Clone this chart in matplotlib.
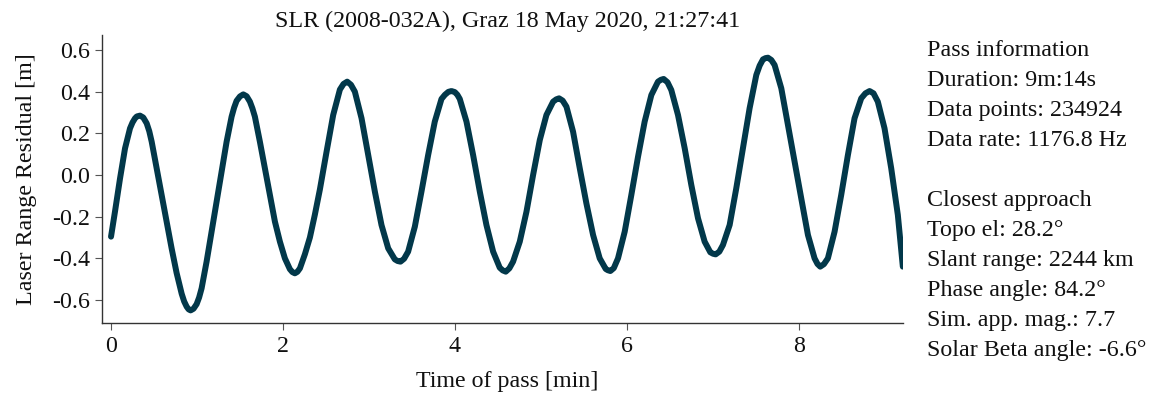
import matplotlib
matplotlib.use("Agg")
import matplotlib.pyplot as plt
from matplotlib.ticker import FormatStrFormatter

# ---- data ----
time_min = [
    0.000, 0.046, 0.105, 0.163, 0.221, 0.250, 0.279, 0.300, 0.337, 0.375,
    0.415, 0.445, 0.473, 0.531, 0.589, 0.647, 0.705, 0.763, 0.822, 0.851,
    0.880, 0.903, 0.926, 0.960, 0.996, 1.025, 1.054, 1.112, 1.170, 1.229,
    1.287, 1.345, 1.403, 1.432, 1.461, 1.500, 1.539, 1.578, 1.616, 1.645,
    1.674, 1.732, 1.790, 1.849, 1.907, 1.965, 2.023, 2.081, 2.110, 2.139,
    2.168, 2.198, 2.256, 2.314, 2.372, 2.430, 2.508, 2.585, 2.663, 2.705,
    2.748, 2.792, 2.837, 2.915, 2.992, 3.070, 3.147, 3.225, 3.302, 3.335,
    3.368, 3.410, 3.457, 3.535, 3.612, 3.690, 3.767, 3.845, 3.885, 3.925,
    3.961, 4.000, 4.030, 4.058, 4.136, 4.213, 4.291, 4.368, 4.446, 4.523,
    4.558, 4.593, 4.635, 4.678, 4.756, 4.834, 4.911, 4.989, 5.066, 5.144,
    5.180, 5.213, 5.255, 5.299, 5.376, 5.454, 5.531, 5.609, 5.686, 5.756,
    5.780, 5.810, 5.850, 5.899, 5.977, 6.054, 6.132, 6.209, 6.287, 6.364,
    6.398, 6.430, 6.475, 6.519, 6.597, 6.675, 6.752, 6.830, 6.907, 6.973,
    7.005, 7.035, 7.078, 7.120, 7.198, 7.275, 7.353, 7.430, 7.508, 7.547,
    7.586, 7.615, 7.644, 7.683, 7.721, 7.799, 7.876, 7.954, 8.031, 8.109,
    8.186, 8.220, 8.252, 8.295, 8.341, 8.419, 8.496, 8.574, 8.651, 8.729,
    8.778, 8.826, 8.872, 8.922, 9.000, 9.078, 9.155, 9.213,
]
residual_m = [
    -0.296, -0.176, -0.016, 0.128, 0.224, 0.252, 0.272, 0.281, 0.285, 0.276,
    0.248, 0.210, 0.160, 0.032, -0.096, -0.224, -0.352, -0.470, -0.570, -0.607,
    -0.632, -0.645, -0.650, -0.642, -0.620, -0.588, -0.544, -0.416, -0.272, -0.128,
    0.016, 0.160, 0.280, 0.323, 0.356, 0.377, 0.387, 0.378, 0.352, 0.320,
    0.280, 0.160, 0.032, -0.096, -0.224, -0.320, -0.400, -0.452, -0.466, -0.472,
    -0.465, -0.448, -0.380, -0.300, -0.190, -0.070, 0.112, 0.288, 0.410, 0.437,
    0.448, 0.433, 0.400, 0.272, 0.096, -0.080, -0.240, -0.352, -0.405, -0.413,
    -0.416, -0.402, -0.368, -0.248, -0.080, 0.096, 0.256, 0.365, 0.385, 0.399,
    0.403, 0.398, 0.385, 0.365, 0.256, 0.096, -0.080, -0.240, -0.368, -0.445,
    -0.458, -0.464, -0.448, -0.416, -0.320, -0.176, 0.000, 0.168, 0.288, 0.352,
    0.363, 0.368, 0.357, 0.328, 0.208, 0.032, -0.136, -0.288, -0.400, -0.451,
    -0.457, -0.461, -0.447, -0.400, -0.272, -0.096, 0.088, 0.256, 0.384, 0.448,
    0.457, 0.461, 0.445, 0.408, 0.288, 0.128, -0.048, -0.208, -0.320, -0.371,
    -0.378, -0.381, -0.368, -0.336, -0.240, -0.064, 0.128, 0.320, 0.480, 0.525,
    0.555, 0.561, 0.563, 0.552, 0.528, 0.416, 0.240, 0.064, -0.112, -0.288,
    -0.400, -0.427, -0.440, -0.428, -0.400, -0.272, -0.096, 0.096, 0.272, 0.368,
    0.392, 0.403, 0.392, 0.352, 0.224, 0.032, -0.192, -0.440,
]
x_ticks = [0, 2, 4, 6, 8]
y_ticks = [-0.6, -0.4, -0.2, 0.0, 0.2, 0.4, 0.6]

title_text = "SLR (2008-032A), Graz 18 May 2020, 21:27:41"
x_label = "Time of pass [min]"
y_label = "Laser Range Residual [m]"
info_lines = [
    "Pass information",
    "Duration: 9m:14s",
    "Data points: 234924",
    "Data rate: 1176.8 Hz",
    "",
    "Closest approach",
    "Topo el: 28.2\u00b0",
    "Slant range: 2244 km",
    "Phase angle: 84.2\u00b0",
    "Sim. app. mag.: 7.7",
    "Solar Beta angle: -6.6\u00b0",
]

# ---- drawing ----
plt.rcParams['font.family'] = ['Liberation Serif', 'DejaVu Serif']
plt.rcParams['axes.unicode_minus'] = False
FS = 17.3

W, H = 1150, 397
fig = plt.figure(figsize=(W / 100, H / 100), dpi=100)
ax = fig.add_axes([102 / W, (H - 323) / H, (903 - 102) / W, (323 - 35) / H])

ax.plot(time_min, residual_m, color='#02384a', lw=4.3,
        solid_capstyle='round', solid_joinstyle='round')

ax.set_xlim(-0.105, 9.215)
ax.set_ylim(-0.7105, 0.672)
ax.set_xticks(x_ticks)
ax.set_yticks(y_ticks)
ax.yaxis.set_major_formatter(FormatStrFormatter('%.1f'))

for s in ('top', 'right'):
    ax.spines[s].set_visible(False)
for s in ('left', 'bottom'):
    ax.spines[s].set_color('#333333')
    ax.spines[s].set_linewidth(1.0)

ax.tick_params(axis='both', direction='out', length=5, width=0.8,
               colors='#555555', labelcolor='#111111', labelsize=FS)
ax.tick_params(axis='y', pad=3.5)
ax.tick_params(axis='x', pad=4)

ax.set_xlabel(x_label, fontsize=FS, color='#111111', va='center')
ax.xaxis.set_label_coords((507 - 102) / (903 - 102), -(381 - 323) / (323 - 35))
ax.set_ylabel(y_label, fontsize=FS, color='#111111', va='center')
ax.yaxis.set_label_coords((27 - 102) / (903 - 102), 0.5)

fig.text(508 / W, 1 - 27 / H, title_text, ha='center', va='baseline',
         fontsize=FS, color='#111111')

for i, line in enumerate(info_lines):
    if line:
        fig.text(927 / W, 1 - (56 + 30 * i) / H, line, ha='left',
                 va='baseline', fontsize=FS, color='#111111')

fig.savefig('out.png', dpi=100)
